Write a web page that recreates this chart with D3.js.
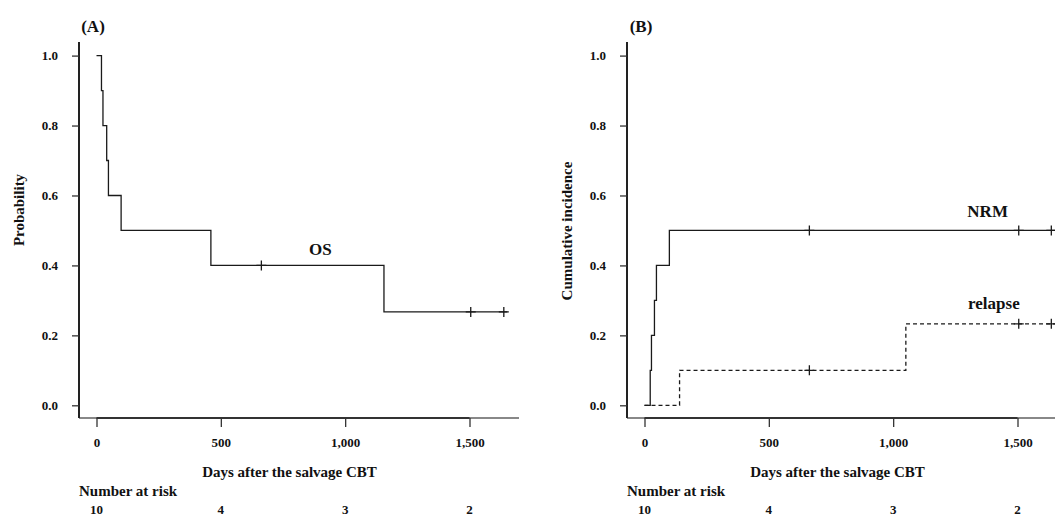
<!DOCTYPE html>
<html>
<head>
<meta charset="utf-8">
<script src="https://d3js.org/d3.v7.min.js"></script>
<style>
  body { margin: 0; background: #fff; }
  svg text { font-family: "Liberation Serif", "Times New Roman", serif; font-weight: bold; fill: #111; }
</style>
</head>
<body>
<div id="chart"></div>
<script>
// tick labels and number at risk
var xTicks = [0, 500, 1000, 1500];
var yTicks = [0, 0.2, 0.4, 0.6, 0.8, 1.0];
var riskTimes = [0, 500, 1000, 1500];
var riskCounts = [10, 4, 3, 2];

// OS curve (days, probability)
var osTimes = [0, 20, 26, 41, 48, 99, 460, 1156, 1652];
var osValues = [1.0, 0.9, 0.8, 0.7, 0.6, 0.5, 0.4, 0.267, 0.267];
var osCensorTimes = [663, 1505, 1638];
var osCensorValues = [0.4, 0.267, 0.267];

// NRM cumulative incidence
var nrmTimes = [0, 23, 28, 40, 48, 100, 1652];
var nrmValues = [0, 0.1, 0.2, 0.3, 0.4, 0.5, 0.5];
var nrmCensorTimes = [663, 1505, 1636];
var nrmCensorValues = [0.5, 0.5, 0.5];

// relapse cumulative incidence
var relTimes = [0, 141, 1051, 1652];
var relValues = [0, 0.1, 0.233, 0.233];
var relCensorTimes = [663, 1505, 1636];
var relCensorValues = [0.1, 0.233, 0.233];

var svgWidth = 1055;
var svgHeight = 515;

var svg = d3.select("#chart")
    .append("svg")
    .attr("width", svgWidth)
    .attr("height", svgHeight);

var ink = "#1a1a1a";

function drawPanel(offset, title, yLabel, yLabelY, curves, labels) {
    var g = svg.append("g").attr("transform", `translate(${offset}, 0)`);

    var axisX = 79;
    var axisY = 418;

    var x = d3.scaleLinear().domain([0, 1500]).range([96.5, 469.5]);
    var y = d3.scaleLinear().domain([0, 1]).range([405.3, 55.6]);

    // light frame lines
    g.append("line")
        .attr("x1", axisX).attr("x2", 519)
        .attr("y1", axisY).attr("y2", axisY)
        .attr("stroke", "#888").attr("stroke-width", 2);

    // dark x axis over the tick range
    var xAxis = d3.axisBottom(x).tickValues(xTicks).tickSize(9).tickPadding(11)
        .tickFormat(d3.format(","));
    var xg = g.append("g").attr("transform", `translate(0, ${axisY})`).call(xAxis);
    xg.select(".domain").attr("d", `M${x(0)},0H${x(1500)}`)
        .attr("stroke", "#333").attr("stroke-width", 2);
    xg.selectAll(".tick line").attr("stroke", "#333").attr("stroke-width", 1.3);
    xg.selectAll(".tick text").attr("font-size", 13).attr("fill", "#111")
        .style("font-family", "Liberation Serif").style("font-weight", "bold");

    // y axis
    var yAxis = d3.axisLeft(y).tickValues(yTicks).tickSize(7).tickPadding(14)
        .tickFormat(d3.format(".1f"));
    var yg = g.append("g").attr("transform", `translate(${axisX}, 0)`).call(yAxis);
    yg.select(".domain").attr("d", `M0,42V${axisY}`)
        .attr("stroke", "#222").attr("stroke-width", 2);
    yg.selectAll(".tick line").attr("stroke", "#333").attr("stroke-width", 1.3);
    yg.selectAll(".tick text").attr("font-size", 13).attr("fill", "#111")
        .style("font-family", "Liberation Serif").style("font-weight", "bold");

    // curves
    var line = d3.line()
        .x(d => x(d[0]))
        .y(d => y(d[1]))
        .curve(d3.curveStepAfter);

    curves.forEach(function(c) {
        var pts = c.times.map((t, i) => [t, c.values[i]]);
        g.append("path")
            .attr("d", line(pts))
            .attr("fill", "none")
            .attr("stroke", ink)
            .attr("stroke-width", 1.3)
            .attr("stroke-dasharray", c.dash || null);

        // censor marks
        c.censorTimes.forEach(function(t, i) {
            var cx = x(t), cy = y(c.censorValues[i]);
            g.append("path")
                .attr("d", `M${cx - 5},${cy}H${cx + 5}M${cx},${cy - 5}V${cy + 5}`)
                .attr("stroke", ink)
                .attr("stroke-width", 1.3);
        });
    });

    // curve labels
    labels.forEach(function(l) {
        g.append("text")
            .attr("x", x(l.t))
            .attr("y", y(l.v))
            .attr("text-anchor", "middle")
            .attr("dominant-baseline", "central")
            .attr("font-size", 17)
            .text(l.text);
    });

    // panel title
    g.append("text")
        .attr("x", 93)
        .attr("y", 26)
        .attr("text-anchor", "middle")
        .attr("dominant-baseline", "central")
        .attr("font-size", 17)
        .text(title);

    // y-axis label
    g.append("text")
        .attr("transform", `translate(19, ${yLabelY}) rotate(-90)`)
        .attr("text-anchor", "middle")
        .attr("dominant-baseline", "central")
        .attr("font-size", 15)
        .text(yLabel);

    // x-axis label
    g.append("text")
        .attr("x", 289.5)
        .attr("y", 472)
        .attr("text-anchor", "middle")
        .attr("dominant-baseline", "central")
        .attr("font-size", 15)
        .text("Days after the salvage CBT");

    // number at risk
    g.append("text")
        .attr("x", axisX)
        .attr("y", 491)
        .attr("dominant-baseline", "central")
        .attr("font-size", 15)
        .text("Number at risk");

    g.selectAll(".risk")
        .data(riskTimes)
        .enter()
        .append("text")
        .attr("x", d => x(d))
        .attr("y", 509)
        .attr("text-anchor", "middle")
        .attr("dominant-baseline", "central")
        .attr("font-size", 13)
        .text((d, i) => riskCounts[i]);
}

drawPanel(0, "(A)", "Probability", 210,
    [{times: osTimes, values: osValues, censorTimes: osCensorTimes, censorValues: osCensorValues}],
    [{text: "OS", t: 900, v: 0.445}]);

drawPanel(548, "(B)", "Cumulative incidence", 231,
    [{times: nrmTimes, values: nrmValues, censorTimes: nrmCensorTimes, censorValues: nrmCensorValues},
     {times: relTimes, values: relValues, censorTimes: relCensorTimes, censorValues: relCensorValues, dash: "4,3"}],
    [{text: "NRM", t: 1380, v: 0.555}, {text: "relapse", t: 1405, v: 0.29}]);
</script>
</body>
</html>
